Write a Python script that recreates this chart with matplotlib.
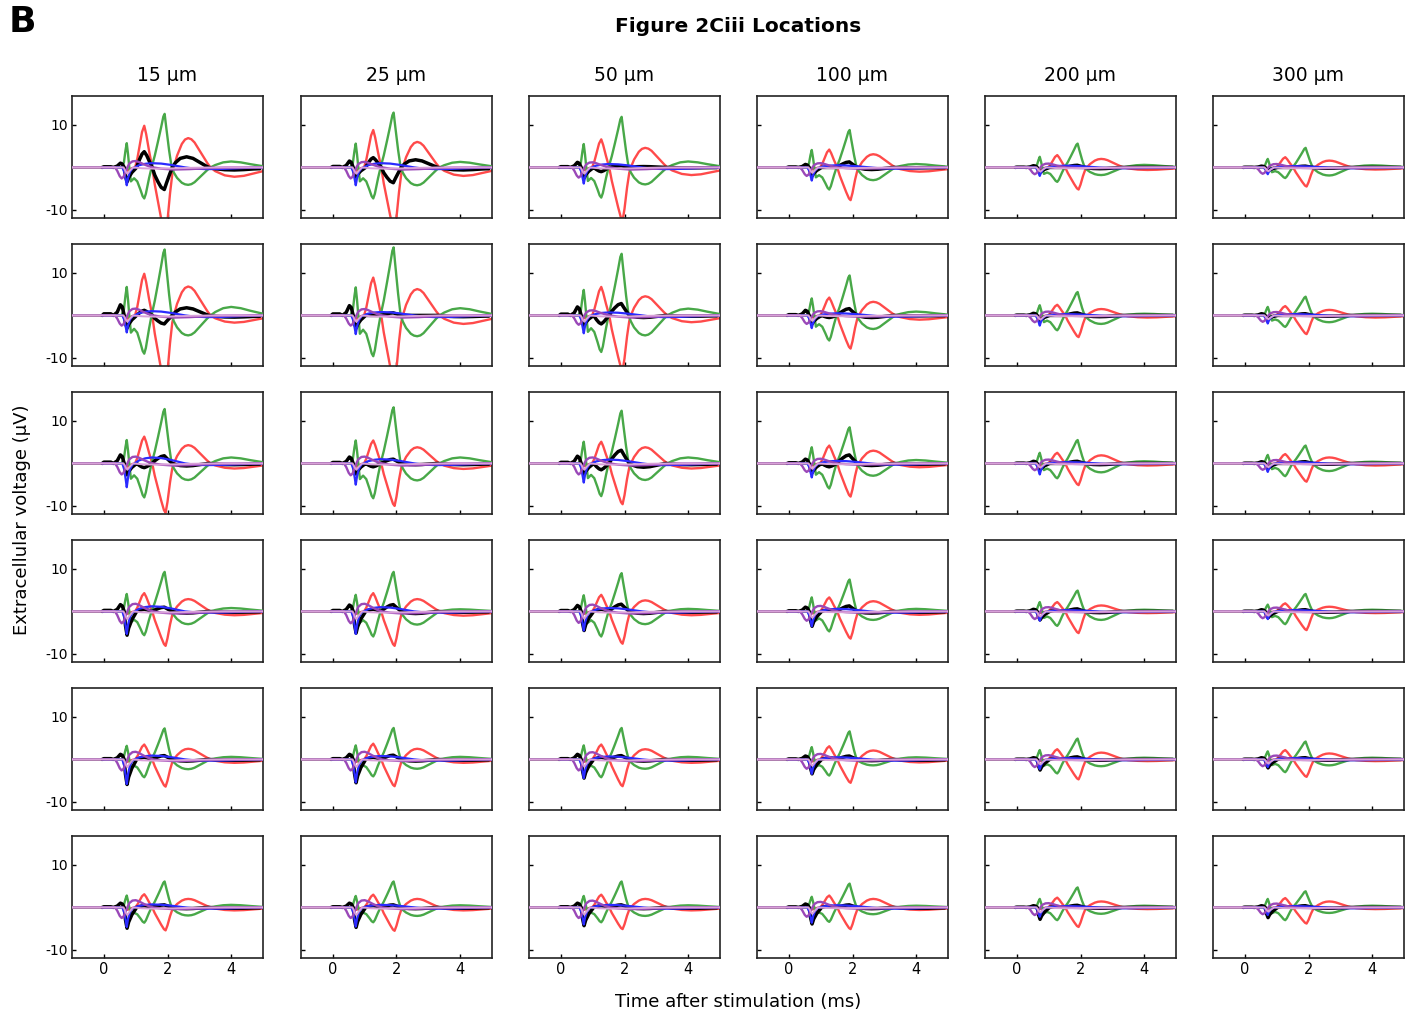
import numpy as np
import matplotlib
matplotlib.use("Agg")
import matplotlib.pyplot as plt

plt.rcParams['font.family'] = ['DejaVu Sans']

# ---------------- labels ----------------
distances = ["15 µm", "25 µm", "50 µm", "100 µm", "200 µm", "300 µm"]
x_ticks = [0, 2, 4]
x_tick_labels = ["0", "2", "4"]
y_ticks = [10, -10]
y_tick_labels = ["10", "-10"]

# ---------------- waveform templates (knot time, lobe, fraction of lobe amplitude) -------------
green_t = [-1.0, 0.55, 0.63, 0.68, 0.72, 0.76, 0.80, 0.85, 0.95, 1.05, 1.15, 1.22, 1.27, 1.32, 1.42, 1.50,
           1.60, 1.70, 1.80, 1.87, 1.91, 1.96, 2.05, 2.13, 2.20, 2.30, 2.45, 2.55, 2.65, 2.75, 2.85, 3.05, 3.25, 3.35,
           3.50, 3.75, 4.00, 4.30, 4.60, 5.00]
green_lobe = ['-', '-', 'g0', 'g0', 'g0', 'g0', 'g0', 'g1', 'g1', 'g1', 'g1', 'g1', 'g1', 'g1', 'g1', '-',
              'g2', 'g2', 'g2', 'g2', 'g2', 'g2', 'g2', '-', 'g3', 'g3', 'g3', 'g3', 'g3', 'g3', 'g3', 'g3', 'g3', '-',
              'g4', 'g4', 'g4', 'g4', 'g4', 'g4']
green_frac = [0, 0, 0.2, 0.7, 1.0, 0.55, 0.0, 0.45, 0.35, 0.45, 0.72, 0.93, 1.0, 0.85, 0.35, 0,
              0.22, 0.48, 0.75, 0.95, 1.0, 0.75, 0.32, 0, 0.3, 0.6, 0.88, 0.97, 1.0, 0.96, 0.85, 0.5, 0.15, 0,
              0.4, 0.85, 1.0, 0.85, 0.55, 0.2]

red_t = [-1.0, 0.58, 0.65, 0.72, 0.80, 0.90, 0.98, 1.05, 1.12, 1.20, 1.27, 1.33, 1.42, 1.52,
         1.60, 1.70, 1.80, 1.89, 1.94, 2.00, 2.08, 2.15, 2.20, 2.30, 2.45, 2.55, 2.65, 2.75, 2.85, 3.05, 3.25, 3.35,
         3.50, 3.80, 4.10, 4.40, 4.70, 5.00]
red_lobe = ['-', '-', 'r0', 'r0', 'r0', 'r0', '-', 'r1', 'r1', 'r1', 'r1', 'r1', 'r1', '-',
            'r2', 'r2', 'r2', 'r2', 'r2', 'r2', 'r2', 'r2', '-', 'r3', 'r3', 'r3', 'r3', 'r3', 'r3', 'r3', 'r3', '-',
            'r4', 'r4', 'r4', 'r4', 'r4', 'r4']
red_frac = [0, 0, 0.5, 1.0, 0.6, 0.2, 0, 0.2, 0.5, 0.85, 1.0, 0.8, 0.4, 0,
            0.25, 0.5, 0.75, 0.95, 1.0, 0.78, 0.38, 0.1, 0, 0.4, 0.8, 0.95, 1.0, 0.96, 0.85, 0.5, 0.15, 0,
            0.4, 0.85, 1.0, 0.9, 0.65, 0.4]

black_t = [-0.05, 0.00, 0.22, 0.30, 0.42, 0.52, 0.58, 0.64, 0.68, 0.73, 0.78, 0.88, 0.98, 1.03,
           1.12, 1.20, 1.27, 1.35, 1.45, 1.52, 1.60, 1.70, 1.80, 1.90, 1.97, 2.07, 2.15,
           2.25, 2.40, 2.60, 2.80, 3.00, 3.20, 3.30, 3.50, 3.80, 4.10, 4.40, 4.70, 4.90]
black_lobe = ['-', 'b0', 'b0', '-', 'b0', 'b0', 'b0', '-', 'b1', 'b1', 'b1', 'b1', 'b1', '-',
              'b2', 'b2', 'b2', 'b2', 'b2', '-', 'b3', 'b3', 'b3', 'b3', 'b3', 'b3', '-',
              'b4', 'b4', 'b4', 'b4', 'b4', 'b4', '-', 'b5', 'b5', 'b5', 'b5', 'b5', 'b5']
black_frac = [0, 0.15, 0.15, 0, 0.3, 1.0, 0.8, 0, 0.6, 1.0, 0.7, 0.35, 0.12, 0,
              0.5, 0.85, 1.0, 0.75, 0.3, 0, 0.35, 0.65, 0.9, 1.0, 0.7, 0.3, 0,
              0.45, 0.85, 1.0, 0.85, 0.5, 0.15, 0, 0.5, 0.9, 1.0, 0.85, 0.6, 0.5]

blue_t = [-0.05, 0.58, 0.64, 0.69, 0.72, 0.76, 0.82, 0.90, 0.97, 1.10, 1.30, 1.50, 1.80, 2.10,
          2.40, 2.55, 2.80, 3.20, 3.70, 4.20, 4.60, 5.00]
blue_lobe = ['-', '-', 'u1', 'u1', 'u1', 'u1', 'u1', 'u1', '-', 'u2', 'u2', 'u2', 'u2', 'u2',
             'u2', '-', 'u3', 'u3', 'u3', 'u3', 'u3', '-']
blue_frac = [0, 0, 0.25, 0.7, 1.0, 0.6, 0.25, 0.05, 0, 0.5, 0.85, 1.0, 0.9, 0.6,
             0.2, 0, 0.6, 1.0, 0.9, 0.5, 0.2, 0]

purple_t = [-1.0, 0.35, 0.42, 0.50, 0.56, 0.62, 0.68, 0.74, 0.80, 0.90, 1.00, 1.10, 1.25, 1.40,
            1.55, 1.80, 2.20, 2.70, 3.20, 3.80, 5.00]
purple_lobe = ['-', '-', 'p1', 'p1', 'p1', 'p1', 'p1', '-', 'p2', 'p2', 'p2', 'p2', 'p2', 'p2',
               '-', 'p3', 'p3', 'p3', 'p3', 'p3', '-']
purple_frac = [0, 0, 0.3, 0.8, 1.0, 0.85, 0.4, 0, 0.6, 0.95, 1.0, 0.85, 0.5, 0.2,
               0, 0.6, 1.0, 0.8, 0.4, 0.1, 0]

pink_t = [-1.0, 0.62, 0.68, 0.74, 0.82, 0.92, 1.20, 1.60, 2.20, 2.80, 3.40, 5.00]
pink_lobe = ['-', '-', 'q1', 'q1', 'q1', '-', 'q2', 'q2', 'q2', 'q2', '-', '-']
pink_frac = [0, 0, 0.6, 1.0, 0.5, 0, 0.7, 1.0, 0.7, 0.3, 0, 0]

# ---------------- lobe amplitudes (µV), rows top->bottom, cols 15..300 µm ----------------
green_spike = [[5.7, 5.6, 5.5, 4.1, 2.5, 2.0],
               [6.7, 6.6, 6.0, 4.0, 2.4, 2.0],
               [5.5, 5.4, 5.1, 3.8, 2.5, 2.0],
               [4.1, 3.9, 3.8, 3.3, 2.2, 1.6],
               [3.2, 3.3, 3.3, 2.9, 2.2, 1.9],
               [2.8, 2.7, 2.7, 2.5, 2.0, 2.0]]
green_trough1 = [[-7.3, -7.3, -7.1, -5.2, -3.4, -2.5],
                 [-9.0, -9.6, -8.6, -5.9, -3.5, -2.7],
                 [-8.0, -8.2, -7.7, -5.9, -3.5, -3.0],
                 [-5.6, -5.9, -5.9, -4.7, -3.4, -3.0],
                 [-4.2, -4.0, -4.2, -3.8, -3.3, -3.0],
                 [-3.6, -3.5, -3.5, -3.4, -3.0, -3.0]]
green_peak = [[12.6, 12.9, 11.9, 8.8, 5.6, 4.6],
              [15.5, 16.0, 14.5, 9.4, 5.5, 4.4],
              [12.8, 13.2, 12.4, 8.5, 5.5, 4.2],
              [9.3, 9.3, 9.0, 7.5, 4.9, 4.1],
              [7.3, 7.4, 7.4, 6.6, 4.9, 4.2],
              [6.1, 6.1, 6.1, 5.6, 4.7, 3.8]]
green_trough2 = [[-4.1, -4.2, -4.0, -3.0, -1.8, -1.9],
                 [-4.7, -4.9, -4.7, -3.2, -2.0, -1.6],
                 [-3.9, -4.0, -3.9, -2.9, -2.1, -1.8],
                 [-3.0, -3.1, -3.0, -2.0, -2.0, -1.6],
                 [-2.3, -2.2, -2.2, -1.4, -1.6, -1.4],
                 [-1.9, -2.0, -2.0, -1.6, -1.5, -1.3]]
green_tail = [[1.4, 1.3, 1.4, 0.8, 0.6, 0.5],
              [2.0, 1.7, 1.6, 0.9, 0.4, 0.4],
              [1.4, 1.4, 1.4, 0.8, 0.5, 0.4],
              [0.8, 0.5, 0.6, 0.6, 0.4, 0.4],
              [0.6, 0.6, 0.6, 0.5, 0.4, 0.4],
              [0.6, 0.5, 0.5, 0.4, 0.4, 0.4]]

red_blip = [[-0.8, -0.8, -0.7, -0.5, -0.4, -0.3],
            [-0.8, -0.8, -0.7, -0.5, -0.4, -0.3],
            [-0.8, -0.8, -0.7, -0.5, -0.4, -0.3],
            [-0.6, -0.6, -0.6, -0.5, -0.4, -0.3],
            [-0.6, -0.6, -0.6, -0.5, -0.4, -0.3],
            [-0.6, -0.6, -0.6, -0.5, -0.4, -0.3]]
red_peak1 = [[9.8, 8.8, 6.6, 4.2, 2.9, 2.4],
             [9.8, 8.9, 6.7, 4.2, 2.5, 2.2],
             [6.3, 5.4, 5.1, 4.2, 2.5, 2.2],
             [4.3, 4.3, 3.9, 3.3, 2.2, 1.9],
             [3.5, 3.7, 3.5, 3.1, 2.4, 2.2],
             [3.1, 3.0, 3.0, 2.8, 2.3, 2.2]]
red_trough = [[-16.0, -15.0, -12.5, -7.7, -5.2, -4.5],
              [-17.0, -16.0, -13.0, -7.8, -5.1, -4.4],
              [-11.6, -10.0, -9.6, -7.8, -5.1, -4.3],
              [-8.1, -8.1, -7.6, -6.4, -5.1, -4.4],
              [-6.4, -6.3, -6.3, -5.5, -4.7, -4.1],
              [-5.4, -5.5, -5.1, -5.1, -4.6, -3.8]]
red_peak2 = [[6.9, 6.0, 4.6, 3.1, 2.0, 1.6],
             [6.8, 6.2, 4.5, 3.2, 1.5, 1.3],
             [4.3, 3.8, 3.8, 3.0, 1.9, 1.4],
             [2.9, 2.9, 2.6, 2.4, 1.4, 1.1],
             [2.5, 2.5, 2.4, 2.1, 1.6, 1.4],
             [2.0, 2.0, 2.0, 2.0, 1.4, 1.4]]
red_tail = [[-2.2, -2.0, -1.8, -1.0, -0.6, -0.5],
            [-1.7, -2.0, -1.6, -1.0, -0.5, -0.5],
            [-1.2, -1.3, -1.2, -0.9, -0.5, -0.5],
            [-0.9, -1.0, -0.9, -0.8, -0.4, -0.4],
            [-0.8, -0.8, -0.8, -0.7, -0.4, -0.4],
            [-0.7, -0.7, -0.7, -0.6, -0.4, -0.4]]

black_pre = [[1.0, 1.5, 1.2, 0.7, 0.4, 0.3],
             [2.5, 2.3, 2.0, 1.2, 0.5, 0.4],
             [2.0, 1.5, 1.7, 1.0, 0.5, 0.4],
             [1.6, 1.5, 1.4, 1.0, 0.5, 0.4],
             [1.2, 1.2, 1.2, 0.8, 0.4, 0.4],
             [1.0, 1.0, 1.0, 0.8, 0.4, 0.4]]
black_spike = [[-3.4, -2.3, -2.5, -2.0, -1.2, -0.8],
               [-3.0, -3.0, -2.4, -2.0, -1.2, -0.8],
               [-2.7, -2.5, -2.7, -2.2, -1.5, -1.2],
               [-5.6, -5.1, -4.5, -3.5, -2.0, -1.5],
               [-5.9, -5.5, -4.4, -3.4, -2.5, -2.0],
               [-4.9, -4.7, -4.3, -3.9, -2.8, -2.4]]
black_mid1 = [[3.7, 2.3, -1.0, 0.0, 0.0, 0.0],
              [1.2, 0.0, -2.0, -0.5, 0.0, 0.0],
              [-1.0, -0.8, -1.5, -0.8, 0.0, 0.0],
              [0.5, 0.5, 0.5, 0.4, 0.2, 0.2],
              [0.5, 0.5, 0.5, 0.4, 0.2, 0.2],
              [0.4, 0.4, 0.4, 0.3, 0.2, 0.2]]
black_mid2 = [[-5.2, -3.6, 0.4, 1.3, 0.5, 0.3],
              [-2.0, 0.6, 2.8, 1.6, 0.6, 0.4],
              [1.8, 1.0, 3.1, 2.0, 0.5, 0.4],
              [1.0, 1.6, 1.7, 1.3, 0.6, 0.4],
              [0.9, 1.0, 0.9, 0.8, 0.6, 0.4],
              [0.6, 0.6, 0.6, 0.6, 0.5, 0.4]]
black_late = [[2.5, 1.8, 0.2, -0.5, -0.3, -0.2],
              [1.8, 0.0, -0.5, -0.5, -0.3, -0.2],
              [-0.6, -0.3, -0.9, -0.5, -0.3, -0.2],
              [-0.4, -0.5, -0.5, -0.4, -0.3, -0.2],
              [-0.4, -0.4, -0.4, -0.3, -0.2, -0.2],
              [-0.3, -0.3, -0.3, -0.3, -0.2, -0.2]]
black_tail = [[-0.6, -0.6, -0.1, -0.1, 0.0, 0.0],
              [-0.4, -0.3, -0.2, -0.1, 0.0, 0.0],
              [-0.3, -0.3, -0.3, -0.2, 0.0, 0.0],
              [-0.2, -0.2, -0.2, -0.2, 0.0, 0.0],
              [-0.2, -0.2, -0.2, -0.2, 0.0, 0.0],
              [-0.2, -0.2, -0.2, -0.2, 0.0, 0.0]]

blue_spike = [[-4.2, -4.2, -3.8, -3.1, -2.0, -1.6],
              [-4.0, -4.4, -4.2, -3.0, -2.4, -1.9],
              [-5.6, -5.0, -4.5, -3.3, -2.6, -2.0],
              [-5.3, -5.3, -4.5, -3.5, -2.2, -1.8],
              [-5.8, -5.4, -4.4, -3.4, -2.3, -1.8],
              [-4.6, -4.5, -4.0, -3.6, -2.2, -1.8]]
blue_hump = [[1.0, 1.0, 0.8, 0.5, 0.4, 0.3],
             [1.0, 0.8, 0.7, 0.5, 0.3, 0.3],
             [1.4, 1.0, 0.9, 0.6, 0.3, 0.3],
             [1.2, 1.0, 0.8, 0.6, 0.3, 0.3],
             [0.9, 0.8, 0.7, 0.5, 0.3, 0.3],
             [0.7, 0.6, 0.6, 0.5, 0.3, 0.3]]
blue_tail = [[-0.4, -0.4, -0.4, -0.3, -0.2, -0.2],
             [-0.4, -0.4, -0.4, -0.3, -0.2, -0.2],
             [-0.4, -0.4, -0.4, -0.3, -0.2, -0.2],
             [-0.3, -0.3, -0.3, -0.3, -0.2, -0.2],
             [-0.3, -0.3, -0.3, -0.3, -0.2, -0.2],
             [-0.3, -0.3, -0.3, -0.3, -0.2, -0.2]]

purple_dip = [[-2.6, -2.6, -2.4, -2.0, -1.6, -1.5],
              [-2.4, -2.4, -2.2, -2.0, -1.6, -1.5],
              [-2.6, -2.8, -2.6, -2.0, -1.6, -1.5],
              [-2.8, -2.8, -2.7, -2.2, -1.8, -1.6],
              [-2.6, -2.6, -2.6, -2.2, -1.8, -1.6],
              [-2.5, -2.5, -2.5, -2.2, -1.8, -1.6]]
purple_hump = [[1.5, 1.3, 1.2, 1.0, 0.9, 0.8],
               [1.6, 1.5, 1.2, 1.0, 0.9, 0.8],
               [1.6, 1.6, 1.4, 1.1, 0.9, 0.8],
               [1.8, 1.8, 1.6, 1.3, 1.0, 0.9],
               [1.8, 1.8, 1.7, 1.3, 1.0, 0.9],
               [1.7, 1.7, 1.6, 1.3, 1.0, 0.9]]
purple_tail = [[-0.5, -0.5, -0.5, -0.3, -0.2, -0.2],
               [-0.5, -0.5, -0.5, -0.3, -0.2, -0.2],
               [-0.5, -0.5, -0.5, -0.3, -0.2, -0.2],
               [-0.5, -0.5, -0.5, -0.3, -0.2, -0.2],
               [-0.4, -0.4, -0.4, -0.3, -0.2, -0.2],
               [-0.4, -0.4, -0.4, -0.3, -0.2, -0.2]]

pink_dip = [[-1.5, -1.5, -1.5, -1.3, -1.0, -0.9],
            [-1.5, -1.5, -1.5, -1.3, -1.0, -0.9],
            [-1.5, -1.5, -1.5, -1.3, -1.0, -0.9],
            [-1.8, -1.8, -1.7, -1.5, -1.2, -1.0],
            [-1.8, -1.8, -1.7, -1.5, -1.2, -1.0],
            [-1.8, -1.8, -1.7, -1.5, -1.2, -1.0]]
pink_tail = [[-0.3, -0.3, -0.3, -0.2, -0.2, -0.2],
             [-0.3, -0.3, -0.3, -0.2, -0.2, -0.2],
             [-0.3, -0.3, -0.3, -0.2, -0.2, -0.2],
             [-0.3, -0.3, -0.3, -0.2, -0.2, -0.2],
             [-0.3, -0.3, -0.3, -0.2, -0.2, -0.2],
             [-0.3, -0.3, -0.3, -0.2, -0.2, -0.2]]

lobe_tables = {
    'g0': green_spike, 'g1': green_trough1, 'g2': green_peak, 'g3': green_trough2, 'g4': green_tail,
    'r0': red_blip, 'r1': red_peak1, 'r2': red_trough, 'r3': red_peak2, 'r4': red_tail,
    'b0': black_pre, 'b1': black_spike, 'b2': black_mid1, 'b3': black_mid2, 'b4': black_late,
    'b5': black_tail,
    'u1': blue_spike, 'u2': blue_hump, 'u3': blue_tail,
    'p1': purple_dip, 'p2': purple_hump, 'p3': purple_tail,
    'q1': pink_dip, 'q2': pink_tail,
}

traces = [  # (times, lobes, fractions, color, linewidth)
    (red_t, red_lobe, red_frac, '#ff4a4a', 1.7),
    (green_t, green_lobe, green_frac, '#48a848', 1.7),
    (black_t, black_lobe, black_frac, '#000000', 2.5),
    (blue_t, blue_lobe, blue_frac, '#2a2aff', 1.6),
    (purple_t, purple_lobe, purple_frac, '#9a48b8', 1.7),
    (pink_t, pink_lobe, pink_frac, '#d9a0d9', 1.4),
]


def trace_values(lobes, fracs, r, c):
    return [0.0 if lb == '-' else fr * lobe_tables[lb][r][c] for lb, fr in zip(lobes, fracs)]


W, H = 1411, 1017
fig = plt.figure(figsize=(W / 100, H / 100), dpi=100)

col_left = [72, 301, 529, 757, 985, 1213]
row_top = [96, 244, 392, 540, 688, 836]
pw, ph = 191, 122

for r in range(6):
    for c in range(6):
        ax = fig.add_axes([col_left[c] / W, 1 - (row_top[r] + ph) / H, pw / W, ph / H])
        for k, (tt, lb, fr, col, lw) in enumerate(traces):
            ax.plot(tt, trace_values(lb, fr, r, c), color=col, lw=lw, zorder=2 + k,
                    solid_joinstyle='round', solid_capstyle='round')
        ax.set_xlim(-1, 5)
        ax.set_ylim(-11.9, 16.8)
        ax.set_xticks(x_ticks)
        ax.set_yticks(y_ticks)
        ax.tick_params(direction='in', length=3, width=1, top=False, right=False,
                       labelsize=10, pad=3)
        if c == 0:
            ax.set_yticklabels(y_tick_labels)
        else:
            ax.set_yticklabels([])
        if r == 5:
            ax.set_xticklabels(x_tick_labels, fontsize=10.5)
        else:
            ax.set_xticklabels([])
        for s in ax.spines.values():
            s.set_linewidth(1.2)
            s.set_color('#222222')
        if r == 0:
            ax.text(0.5, 1.0 + 21 / ph, distances[c], transform=ax.transAxes,
                    ha='center', va='center', fontsize=13.5)

fig.text(22 / W, 1 - 22 / H, "B", fontsize=26, fontweight='bold', ha='center', va='center')
fig.text(738 / W, 1 - 27 / H, "Figure 2Ciii Locations", fontsize=14.5, fontweight='bold',
         ha='center', va='center')
fig.text(738 / W, 1 - 1002 / H, "Time after stimulation (ms)", fontsize=13,
         ha='center', va='center')
fig.text(22 / W, 1 - 520 / H, "Extracellular voltage (µV)", fontsize=13,
         ha='center', va='center', rotation=90)

fig.savefig("out.png", dpi=100)
